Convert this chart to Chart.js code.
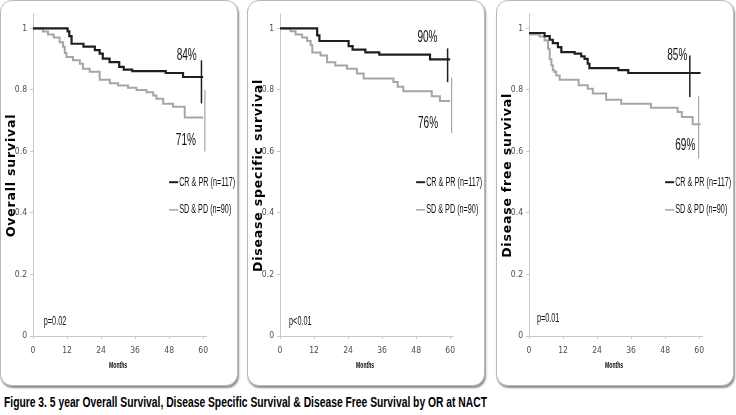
<!DOCTYPE html>
<html>
<head>
<meta charset="utf-8">
<script src="https://cdn.jsdelivr.net/npm/chart.js@4"></script>
<style>
  body { margin: 0; background: #fff; width: 736px; height: 415px; overflow: hidden; position: relative; }
  .panel { position: absolute; top: 0; width: 236px; height: 384px; border: 1px solid #b8b8b8; border-radius: 12px;
           box-shadow: 1px 2px 2px rgba(0,0,0,0.45); background: #fff; overflow: hidden; }
  .panel canvas { display: block; }
  #caption { position: absolute; left: 4px; top: 394px; white-space: nowrap; color: #000; transform-origin: 0 0;
             font: bold 14px 'Liberation Sans', Arial, sans-serif; }
</style>
</head>
<body>
<div class="panel" style="left:0px"><canvas id="os" width="236" height="384"></canvas></div>
<div class="panel" style="left:247px"><canvas id="dss" width="236" height="384"></canvas></div>
<div class="panel" style="left:496px"><canvas id="dfs" width="236" height="384"></canvas></div>
<div id="caption">Figure 3. 5 year Overall Survival, Disease Specific Survival &amp; Disease Free Survival by OR at NACT</div>
<script>
// ---- data ----
const xTicks = [0, 12, 24, 36, 48, 60];
const yTicks = [0, 0.2, 0.4, 0.6, 0.8, 1];
const groupLabels = ["CR & PR (n=117)", "SD & PD (n=90)"];
const panelTitles = ["Overall survival", "Disease specific survival", "Disease free survival"];
const xTitle = "Months";
const pValues = ["p=0.02", "p<0.01", "p=0.01"];
const endLabels = [["84%", "71%"], ["90%", "76%"], ["85%", "69%"]];

// Overall survival
const osCrMonths = [0, 12.2, 12.8, 13.6, 17.8, 21.8, 23.5, 24.6, 27.0, 30.4, 32.0, 35.0, 46.8, 52.9, 60];
const osCrSurv   = [1, 0.99, 0.975, 0.95, 0.941, 0.929, 0.918, 0.902, 0.89, 0.875, 0.866, 0.861, 0.855, 0.842, 0.842];
const osSdMonths = [0, 3.5, 5.3, 7.3, 9.4, 10.6, 11.2, 11.8, 14.1, 16.5, 17.6, 20.0, 23.5, 27.1, 30.0, 33.5, 36.5, 40.0, 42.4, 43.5, 45.9, 49.4, 53.5, 60];
const osSdSurv   = [1, 0.99, 0.98, 0.97, 0.955, 0.94, 0.92, 0.907, 0.896, 0.885, 0.869, 0.859, 0.833, 0.822, 0.814, 0.807, 0.8, 0.792, 0.782, 0.771, 0.755, 0.745, 0.71, 0.71];
const osBarMonths = [59.4, 60.6];
const osBarLow    = [0.756, 0.6];
const osBarHigh   = [0.896, 0.8];

// Disease specific survival
const dssCrMonths = [0, 13.1, 13.9, 24.2, 25.6, 30.1, 35.0, 52.9, 60];
const dssCrSurv   = [1, 0.977, 0.959, 0.942, 0.931, 0.922, 0.915, 0.899, 0.899];
const dssSdMonths = [0, 3.75, 5.5, 7.8, 9.6, 10.8, 11.4, 14.3, 16.6, 19.5, 23.6, 27.1, 29.5, 40.0, 41.5, 43.5, 53.5, 56.4, 60];
const dssSdSurv   = [1, 0.991, 0.98, 0.97, 0.959, 0.945, 0.922, 0.912, 0.89, 0.879, 0.869, 0.853, 0.837, 0.826, 0.81, 0.796, 0.779, 0.764, 0.764];
const dssBarMonths = [59.1, 60.5];
const dssBarLow    = [0.825, 0.66];
const dssBarHigh   = [0.935, 0.84];

// Disease free survival
const dfsCrMonths = [0, 5.5, 7.3, 8.4, 10.2, 11.4, 16.1, 18.4, 19.6, 20.7, 21.3, 31.5, 35.0, 60.5];
const dfsCrSurv   = [0.985, 0.975, 0.963, 0.952, 0.939, 0.923, 0.918, 0.909, 0.901, 0.885, 0.871, 0.864, 0.855, 0.855];
const dfsSdMonths = [0, 3.75, 5.5, 6.7, 7.3, 7.9, 8.4, 9.0, 9.6, 10.8, 17.5, 20.7, 22.5, 27.2, 32.5, 43.0, 52.4, 53.9, 57.7, 60.5];
const dfsSdSurv   = [0.98, 0.974, 0.961, 0.934, 0.9, 0.88, 0.864, 0.858, 0.847, 0.833, 0.815, 0.804, 0.788, 0.768, 0.755, 0.742, 0.728, 0.712, 0.688, 0.688];
const dfsBarMonths = [56.7, 59.8];
const dfsBarLow    = [0.777, 0.577];
const dfsBarHigh   = [0.912, 0.779];

// ---- styling ----
const SANS = "'Liberation Sans', Arial, sans-serif";
const WIDE = "'DejaVu Sans', Verdana, sans-serif";
const DARK = "#1f1f1f";
const GREY = "#a6a6a6";
const AXIS = "#c8c8c8";

Chart.defaults.font.family = "'DejaVu Sans Condensed', " + SANS;

const toPoints = (xs, ys) => xs.map((m, i) => ({ x: m, y: ys[i] }));

// the source figure uses a squeezed narrow face, so squash text horizontally
function fillNarrow(ctx, text, px, py, align, sx) {
  ctx.save();
  ctx.translate(px, py);
  ctx.scale(sx, 1);
  ctx.textAlign = align;
  ctx.fillText(text, 0, 0);
  ctx.restore();
}

// text bits placed in data units: axis titles, end labels, p value, legend
const panelText = {
  id: "panelText",
  afterDatasetsDraw(chart, args, opts) {
    const { ctx, chartArea } = chart;
    const x = chart.scales.x, y = chart.scales.y;
    ctx.save();
    ctx.textBaseline = "middle";

    // rotated y-axis title
    ctx.save();
    ctx.translate(chartArea.left - 21, y.getPixelForValue(0.522));
    ctx.rotate(-Math.PI / 2);
    ctx.font = "bold 12.5px " + WIDE;
    ctx.letterSpacing = "0.8px";
    ctx.fillStyle = "#000";
    ctx.textAlign = "center";
    ctx.fillText(opts.title, 0, 0);
    ctx.restore();

    // x-axis title
    ctx.fillStyle = "#000";
    ctx.font = "bold 9px " + SANS;
    fillNarrow(ctx, xTitle, (chartArea.left + x.getPixelForValue(60)) / 2, chartArea.bottom + 30, "center", 0.56);

    ctx.fillStyle = "#111";

    // percentages at 5 years
    ctx.font = "16.5px " + SANS;
    opts.ends.forEach((e, i) => {
      fillNarrow(ctx, opts.endText[i], x.getPixelForValue(e[0]), y.getPixelForValue(e[1]), "center", 0.61);
    });

    // p value
    ctx.font = "13px " + SANS;
    fillNarrow(ctx, opts.p, x.getPixelForValue(opts.pAt[0]), y.getPixelForValue(opts.pAt[1]), "left", 0.56);

    // legend
    ctx.font = "12.5px " + SANS;
    [0, 1].forEach(i => {
      const ds = chart.data.datasets[i];
      const lx = x.getPixelForValue(48);
      const ly = y.getPixelForValue(i === 0 ? 0.5 : 0.41);
      ctx.strokeStyle = ds.borderColor;
      ctx.lineWidth = i === 0 ? 2 : 1.5;
      ctx.beginPath();
      ctx.moveTo(lx, ly);
      ctx.lineTo(lx + 9, ly);
      ctx.stroke();
      ctx.fillStyle = "#111";
      fillNarrow(ctx, ds.label, lx + 10, ly, "left", 0.58);
    });
    ctx.restore();
  }
};

function makePanel(id, idx, cr, sd, bars, layout) {
  const datasets = [
    { label: groupLabels[0], data: cr, borderColor: DARK, borderWidth: 2.2, stepped: true },
    { label: groupLabels[1], data: sd, borderColor: GREY, borderWidth: 2, stepped: true },
    { label: "cr-bar", data: bars[0], borderColor: DARK, borderWidth: 1.5 },
    { label: "sd-bar", data: bars[1], borderColor: GREY, borderWidth: 1.2 }
  ];
  datasets.forEach(d => { d.pointRadius = 0; d.clip = false; d.fill = false; });

  return new Chart(document.getElementById(id), {
    type: "line",
    data: { datasets },
    plugins: [panelText],
    options: {
      responsive: false,
      animation: false,
      layout: { padding: { top: 12, right: 31, left: 0, bottom: 0 } },
      plugins: {
        legend: { display: false },
        tooltip: { enabled: false },
        panelText: {
          title: panelTitles[idx],
          endText: endLabels[idx],
          ends: layout.ends,
          p: pValues[idx],
          pAt: layout.pAt
        }
      },
      scales: {
        x: {
          type: "linear",
          min: 0,
          max: 61,
          afterBuildTicks: s => { s.ticks = xTicks.map(v => ({ value: v })); },
          afterFit: s => { s.height = 49; },
          grid: { drawOnChartArea: false, color: AXIS, tickLength: 3 },
          border: { color: AXIS, width: 1 },
          ticks: { color: "#4d4d4d", font: { size: 8.5 }, padding: 7, maxRotation: 0 }
        },
        y: {
          min: 0,
          max: 1.05,
          afterBuildTicks: s => { s.ticks = yTicks.map(v => ({ value: v })); },
          afterFit: s => { s.width = 32; },
          grid: { drawOnChartArea: false, color: AXIS, tickLength: 3 },
          border: { color: AXIS, width: 1 },
          ticks: { color: "#4d4d4d", font: { size: 8.5 }, padding: 3, callback: v => String(Math.round(v * 10) / 10) }
        }
      }
    }
  });
}

const barsOf = (ms, lo, hi) => ms.map((m, i) => [{ x: m, y: lo[i] }, { x: m, y: hi[i] }]);

makePanel("os", 0,
  toPoints(osCrMonths, osCrSurv), toPoints(osSdMonths, osSdSurv),
  barsOf(osBarMonths, osBarLow, osBarHigh),
  { ends: [[54.2, 0.912], [53.9, 0.636]], pAt: [3.8, 0.046] });

makePanel("dss", 1,
  toPoints(dssCrMonths, dssCrSurv), toPoints(dssSdMonths, dssSdSurv),
  barsOf(dssBarMonths, dssBarLow, dssBarHigh),
  { ends: [[52, 0.971], [52.2, 0.69]], pAt: [3.2, 0.046] });

makePanel("dfs", 2,
  toPoints(dfsCrMonths, dfsCrSurv), toPoints(dfsSdMonths, dfsSdSurv),
  barsOf(dfsBarMonths, dfsBarLow, dfsBarHigh),
  { ends: [[52.3, 0.912], [55.1, 0.62]], pAt: [2.8, 0.058] });

// squeeze the caption to the width it has in the figure
const cap = document.getElementById("caption");
cap.style.transform = "scaleX(" + (483 / cap.scrollWidth) + ")";
</script>
</body>
</html>
